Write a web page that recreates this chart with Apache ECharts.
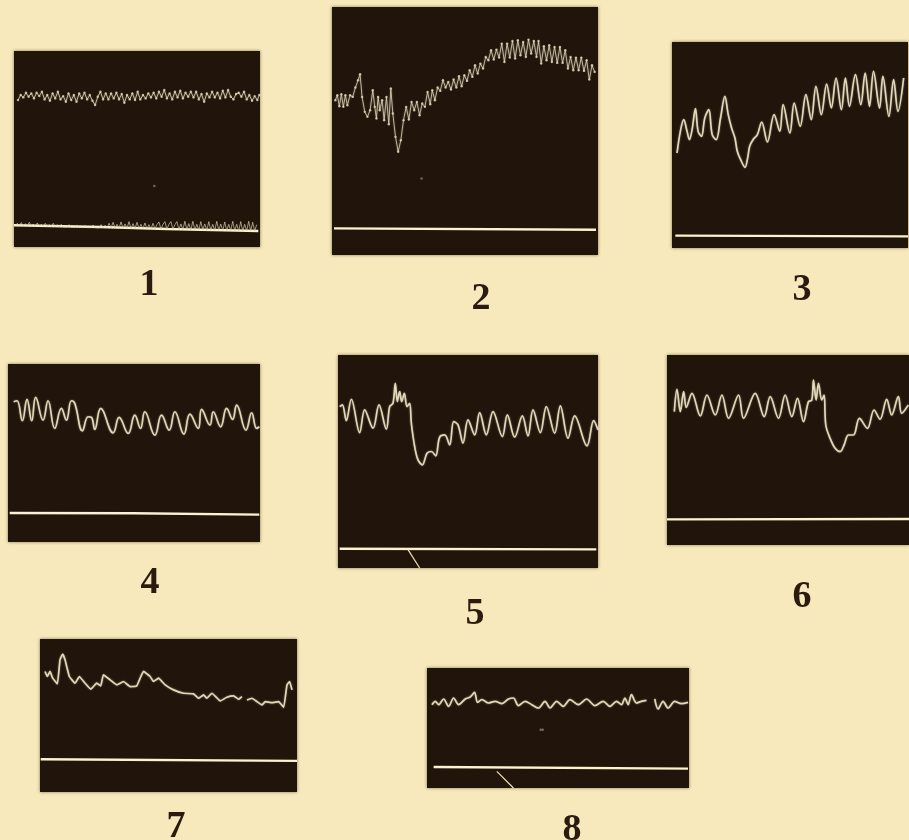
<!DOCTYPE html>
<html><head><meta charset="utf-8">
<style>html,body{margin:0;padding:0;background:#f7e9bb}#c{width:909px;height:840px}</style>
<script src="https://cdn.jsdelivr.net/npm/echarts@6/dist/echarts.min.js"></script>
</head><body><div id="c"></div>
<script>
// All readings: horizontal sweep and downward deflection in plate reading units.
const trace1=[[52,180],[60,165],[68,172],[76,158],[84,170],[92,160],[100,175],[108,158],[116,168],[124,155],[132,178],[140,165],[148,182],[156,160],[164,175],[172,155],[180,178],[188,168],[196,185],[204,160],[212,180],[220,165],[228,185],[236,160],[244,175],[252,158],[260,178],[268,165],[276,182],[284,195],[292,170],[300,155],[308,178],[316,160],[324,178],[332,160],[340,175],[348,158],[356,178],[364,162],[372,188],[380,165],[388,178],[396,160],[404,180],[412,155],[420,178],[428,165],[436,175],[444,160],[452,172],[460,158],[468,175],[476,155],[484,170],[492,150],[500,175],[508,160],[516,178],[524,155],[532,172],[540,152],[548,175],[556,158],[564,170],[572,155],[580,172],[588,155],[596,178],[604,162],[612,185],[620,160],[628,172],[636,155],[644,172],[652,158],[660,175],[668,152],[676,172],[684,150],[692,170],[700,178],[708,162],[716,158],[724,170],[732,155],[740,178],[748,165],[756,182],[764,168],[772,180],[778,165]];
const ticks1=[[45,556],[50,549],[56,556],[62,547],[68,557],[74,550],[80,557],[86,546],[92,557],[98,551],[104,558],[110,548],[116,558],[122,552],[128,558],[134,549],[140,559],[146,553],[152,559],[158,549],[164,559],[170,553],[176,560],[182,552],[188,560],[194,555],[200,560],[206,553],[212,561],[218,556],[224,561],[230,554],[236,561],[242,557],[248,562],[254,555],[260,562],[266,557],[272,562],[278,554],[284,562],[290,557],[296,563],[302,553],[308,563],[314,555],[320,563],[326,549],[332,563],[338,546],[344,563],[350,552],[356,564],[362,545],[368,564],[374,551],[380,564],[386,544],[392,565],[398,550],[404,565],[410,546],[416,565],[422,552],[428,565],[434,548],[440,566],[446,553],[452,566],[458,549],[464,566],[470,553],[476,545],[482,567],[488,552],[494,544],[500,567],[506,552],[512,544],[518,567],[524,553],[530,544],[536,568],[542,551],[548,568],[554,543],[560,568],[566,550],[572,569],[578,543],[584,569],[590,552],[596,569],[602,544],[608,569],[614,551],[620,570],[626,544],[632,570],[638,552],[644,570],[650,543],[656,570],[662,551],[668,571],[674,545],[680,571],[686,552],[692,571],[698,543],[704,571],[710,552],[716,572],[722,544],[728,572],[734,552],[740,572],[746,543],[752,572],[758,546],[764,572],[770,553]];
const trace2=[[32,300],[38,285],[44,318],[50,282],[56,320],[62,285],[68,315],[76,285],[84,290],[92,262],[100,240],[106,222],[112,290],[120,335],[128,350],[136,330],[144,270],[150,320],[155,355],[160,290],[165,330],[172,300],[178,360],[185,290],[192,372],[198,265],[204,340],[212,410],[220,455],[228,420],[236,360],[244,320],[252,358],[260,305],[268,330],[276,305],[284,345],[292,310],[300,320],[308,275],[316,312],[322,270],[330,300],[338,262],[346,272],[354,240],[362,262],[370,245],[378,268],[386,238],[394,262],[402,228],[410,258],[418,225],[426,242],[434,210],[442,230],[450,195],[458,220],[466,190],[474,205],[482,170],[490,180],[498,150],[506,178],[514,148],[522,172],[530,130],[538,185],[546,130],[554,172],[562,122],[570,175],[578,120],[586,165],[594,125],[602,170],[610,118],[618,160],[626,122],[634,170],[640,122],[648,190],[656,138],[664,180],[672,135],[680,185],[688,140],[696,188],[704,140],[712,188],[720,150],[728,205],[736,170],[744,210],[752,172],[760,210],[768,172],[776,212],[784,180],[792,238],[800,195],[808,215]];
const trace3=[[35,355],[45,290],[55,255],[65,290],[72,315],[80,285],[90,222],[98,290],[108,305],[118,250],[130,225],[140,300],[152,315],[165,250],[178,185],[188,240],[198,280],[208,310],[215,350],[225,375],[238,398],[246,370],[252,335],[262,315],[275,300],[288,262],[305,322],[325,240],[342,290],[352,210],[372,295],[385,205],[403,275],[420,180],[436,255],[450,155],[466,240],[482,148],[496,220],[510,130],[526,225],[538,130],[550,215],[568,120],[584,210],[597,115],[610,215],[622,110],[640,220],[650,125],[668,245],[682,135],[695,230],[712,130]];
const trace4=[[42,125],[52,122],[68,182],[82,118],[96,182],[108,112],[130,180],[145,122],[165,205],[185,145],[200,180],[215,122],[225,130],[248,212],[265,170],[275,172],[285,208],[303,145],[340,218],[358,172],[385,220],[405,165],[422,205],[435,155],[465,225],[485,165],[508,210],[525,155],[552,222],[570,162],[595,205],[605,148],[630,195],[640,155],[662,200],[680,145],[698,178],[710,135],[738,210],[755,158],[770,205],[778,200]];
const trace5=[[30,170],[38,165],[50,212],[65,148],[90,248],[105,180],[130,235],[148,165],[170,238],[180,170],[190,160],[197,100],[203,155],[210,125],[216,155],[224,130],[232,170],[240,160],[245,220],[255,290],[265,330],[278,345],[292,310],[305,305],[318,318],[330,262],[345,255],[360,285],[372,215],[385,225],[400,280],[415,210],[435,255],[450,188],[470,255],[490,185],[518,260],[533,195],[555,262],[578,198],[595,258],[610,180],[632,248],[650,170],[675,250],[692,168],[715,265],[735,198],[772,288],[792,212],[805,240]];
const trace6=[[42,185],[50,118],[60,185],[70,125],[78,172],[95,130],[120,198],[140,135],[165,195],[185,135],[205,205],[235,135],[250,205],[285,130],[312,200],[330,140],[355,205],[375,135],[395,200],[412,145],[430,215],[445,155],[455,150],[460,90],[468,150],[475,100],[485,150],[492,135],[497,225],[510,265],[525,295],[540,305],[552,285],[565,255],[580,255],[598,205],[622,235],[642,180],[660,208],[680,148],[695,195],[715,140],[725,190],[745,165]];
const trace7=[[45,125],[52,140],[60,125],[68,145],[82,162],[90,90],[98,73],[105,90],[118,140],[135,160],[148,140],[165,160],[182,178],[200,160],[212,168],[220,135],[240,150],[260,165],[280,155],[300,170],[320,168],[330,145],[340,125],[360,140],[370,155],[385,145],[405,165],[430,180],[460,190],[490,192],[505,205],[520,195],[530,205],[545,190],[570,213],[590,202],[610,198],[625,208],[635,200],[642,null],[650,210],[665,205],[680,215],[695,225],[705,215],[725,218],[745,215],[760,232],[770,165],[778,155],[785,180]];
const trace8=[[35,135],[45,125],[55,135],[70,118],[85,140],[100,115],[115,135],[135,118],[150,112],[163,98],[172,128],[185,120],[205,130],[225,125],[245,132],[265,118],[280,115],[295,138],[315,125],[335,135],[355,145],[375,125],[390,145],[410,125],[430,140],[450,120],[475,135],[500,118],[525,138],[550,125],[570,140],[590,125],[605,135],[615,115],[625,135],[635,105],[650,130],[665,125],[680,122],[692,null],[705,118],[715,148],[730,125],[745,145],[765,125],[785,132],[805,128]];
const base1=[[40,555],[300,560],[500,566],[775,572]];
const base2=[[28,685],[812,689]];
const base3=[[30,603],[725,605]];
const base4=[[30,458],[400,459],[778,463]];
const base5=[[30,597],[800,599]];
const base6=[[20,508],[747,507]];
const base7=[[32,387],[800,392]];
const base8=[[40,322],[805,327]];
const crease5=[[235,600],[270,655]];
const crease8=[[230,335],[280,385]];
const speck1=[[462,437]];
const speck2=[[290,535]];
const speck8=[[362,210],[368,210]];
const labels=['1','2','3','4','5','6','7','8'];
const smoothing=[0,0,0.35,0.45,0.35,0.35,0.1,0.3];
const traces=[trace1,trace2,trace3,trace4,trace5,trace6,trace7,trace8];
const bases=[base1,base2,base3,base4,base5,base6,base7,base8];
const creases={4:crease5,7:crease8};
const specks={0:speck1,1:speck2,7:speck8};
// Layout: page rectangle [x,y,w,h] and the reading range it spans [x0,x1,y0,y1]
const rects=[[14,51,246,196],[332,7,266,248],[672,42,236,206],[8,364,252,178],[338,355,260,213],[667,355,242,190],[40,639,257,153],[427,668,262,120]];
const ranges=[[40,780,33,620],[22,818,20,765],[20,725,22,640],[25,780,12,545],[25,805,15,655],[20,747,15,585],[30,800,28,485],[20,808,25,385]];
const labelPos=[[144,280],[476,294],[797,285],[145,578],[470,609],[797,592],[171,822],[567,825]];

const grid=[],xAxis=[],yAxis=[],series=[];
labels.forEach((l,i)=>{
  const r=rects[i],q=ranges[i],beaded=i<2;
  grid.push({left:r[0],top:r[1],width:r[2],height:r[3],show:true,backgroundColor:'#21140b',borderWidth:0,shadowBlur:3,shadowColor:'rgba(60,40,20,.6)'});
  xAxis.push({gridIndex:i,type:'value',min:q[0],max:q[1],show:false});
  yAxis.push({gridIndex:i,type:'value',min:q[2],max:q[3],inverse:true,show:false});
  series.push({type:'line',xAxisIndex:i,yAxisIndex:i,data:traces[i],smooth:smoothing[i],showSymbol:beaded,symbol:'circle',symbolSize:2.4,silent:true,
    itemStyle:{color:'#e3dcbc',opacity:.8},
    lineStyle:{color:'#e6dfc0',width:beaded?1:1.7,opacity:beaded?.75:.95,shadowBlur:2,shadowColor:'rgba(235,225,190,.5)'}});
  series.push({type:'line',xAxisIndex:i,yAxisIndex:i,data:bases[i],showSymbol:false,silent:true,
    lineStyle:{color:'#fbf3cf',width:2.4}});
  if(creases[i])series.push({type:'line',xAxisIndex:i,yAxisIndex:i,data:creases[i],showSymbol:false,silent:true,lineStyle:{color:'#f0e2b4',width:1.2}});
  if(specks[i])series.push({type:'scatter',xAxisIndex:i,yAxisIndex:i,data:specks[i],symbolSize:2.5,silent:true,itemStyle:{color:'#8d8068'}});
});
series.push({type:'line',xAxisIndex:0,yAxisIndex:0,data:ticks1,showSymbol:false,silent:true,lineStyle:{color:'#d9d0ad',width:.7}});

const chart=echarts.init(document.getElementById('c'),null,{renderer:'canvas'});
chart.setOption({
  animation:false,backgroundColor:'#f7e9bb',
  title:labels.map((l,i)=>({text:l,left:labelPos[i][0],top:labelPos[i][1]-20,textAlign:'center',
    textStyle:{fontFamily:'Liberation Serif',fontSize:38,fontWeight:'bold',lineHeight:40,color:'#2a1a10'}})),
  grid,xAxis,yAxis,series
});
</script></body></html>
